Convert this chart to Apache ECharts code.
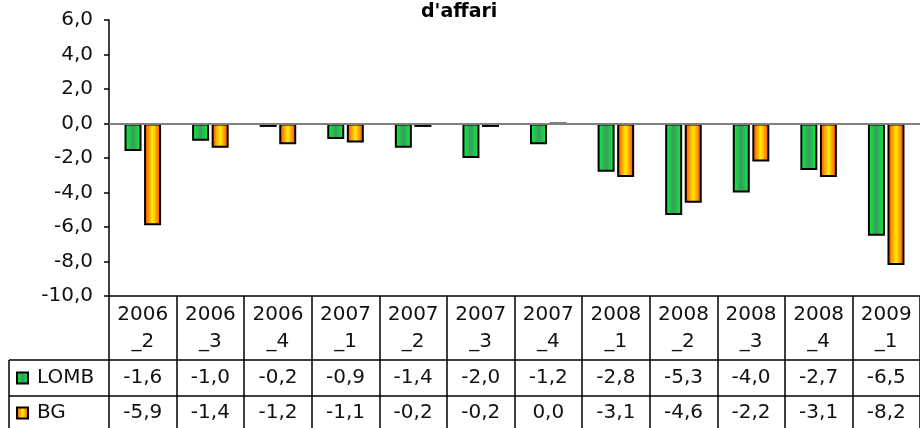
<!DOCTYPE html>
<html lang="it">
<head>
    <meta charset="UTF-8">
    <title>d'affari</title>
    <script src="https://cdn.jsdelivr.net/npm/echarts@6/dist/echarts.min.js"></script>
</head>
<body style="margin:0">
<div id="box" style="width: 920px;height: 428px;"></div>
<script>
    // dati
    var categories = ['2006_2', '2006_3', '2006_4', '2007_1', '2007_2', '2007_3',
        '2007_4', '2008_1', '2008_2', '2008_3', '2008_4', '2009_1'];
    var seriesNames = ['LOMB', 'BG'];
    var lomb = [-1.6, -1.0, -0.2, -0.9, -1.4, -2.0, -1.2, -2.8, -5.3, -4.0, -2.7, -6.5];
    var bg = [-5.9, -1.4, -1.2, -1.1, -0.2, -0.2, 0.0, -3.1, -4.6, -2.2, -3.1, -8.2];
    var yMin = -10, yMax = 6, yStep = 2;

    var font = 'DejaVu Sans';
    function fmt(v) {
        return Number(v).toFixed(1).replace('.', ',');
    }
    function grad(edge, mid) {
        return new echarts.graphic.LinearGradient(0, 0, 1, 0, [
            {offset: 0, color: edge},
            {offset: 0.5, color: mid},
            {offset: 1, color: edge}
        ]);
    }

    var myChart = echarts.init(document.getElementById('box'));
    var option = {
        backgroundColor: '#fff',
        animation: false,
        title: {
            text: "d'affari",
            left: 421,
            top: 3,
            padding: 0,
            textStyle: {fontFamily: font, fontSize: 19, fontWeight: 'bold', color: '#000'}
        },
        legend: {
            orient: 'vertical',
            left: 16,
            top: 368,
            height: 70,
            padding: 0,
            itemWidth: 11,
            itemHeight: 11,
            itemGap: 15,
            icon: 'rect',
            textStyle: {fontFamily: font, fontSize: 20, color: '#111', lineHeight: 20, padding: [0, 0, 0, 4]},
            data: seriesNames
        },
        grid: {left: 109, top: 20, width: 816, height: 276},
        xAxis: [
            {
                type: 'category',
                data: categories,
                position: 'bottom',
                axisLine: {onZero: false, lineStyle: {color: '#000', width: 1.5}},
                axisTick: {show: true, interval: 0, length: 134, lineStyle: {color: '#000', width: 1.5}},
                axisLabel: {
                    interval: 0, margin: 5, fontFamily: font, fontSize: 20, lineHeight: 27, color: '#111',
                    formatter: function (v) { return v.replace('_', '\n_'); }
                }
            },
            {
                type: 'category',
                data: lomb.map(fmt),
                position: 'bottom',
                offset: 64,
                axisLine: {onZero: false, lineStyle: {color: '#000', width: 1.5}},
                axisTick: {show: false},
                axisLabel: {interval: 0, margin: 8, fontFamily: font, fontSize: 20, lineHeight: 20, color: '#111'}
            },
            {
                type: 'category',
                data: bg.map(fmt),
                position: 'bottom',
                offset: 100,
                axisLine: {onZero: false, lineStyle: {color: '#000', width: 1.5}},
                axisTick: {show: false},
                axisLabel: {interval: 0, margin: 7, fontFamily: font, fontSize: 20, lineHeight: 20, color: '#111'}
            }
        ],
        yAxis: {
            type: 'value',
            min: yMin,
            max: yMax,
            interval: yStep,
            axisLine: {show: true, lineStyle: {color: '#000', width: 1.5}},
            axisTick: {show: true, length: 5, lineStyle: {color: '#000', width: 1.5}},
            splitLine: {show: false},
            axisLabel: {margin: 16, fontFamily: font, fontSize: 20, color: '#111', formatter: fmt}
        },
        graphic: [
            {type: 'line', shape: {x1: 9, y1: 360, x2: 110, y2: 360}, style: {stroke: '#000', lineWidth: 1.5}},
            {type: 'line', shape: {x1: 9, y1: 396, x2: 110, y2: 396}, style: {stroke: '#000', lineWidth: 1.5}},
            {type: 'line', shape: {x1: 9, y1: 360, x2: 9, y2: 430}, style: {stroke: '#000', lineWidth: 1.5}}
        ],
        series: [
            {
                name: seriesNames[0],
                type: 'bar',
                data: lomb,
                barWidth: 17,
                barGap: '15%',
                itemStyle: {color: grad('#00ff33', '#3a9a5e'), borderColor: '#000', borderWidth: 2},
                markLine: {
                    silent: true,
                    symbol: 'none',
                    label: {show: false},
                    lineStyle: {color: '#808080', width: 2, type: 'solid'},
                    data: [{yAxis: 0}]
                }
            },
            {
                name: seriesNames[1],
                type: 'bar',
                data: bg,
                barWidth: 17,
                itemStyle: {color: grad('#ff3a00', '#ffee00'), borderColor: '#000', borderWidth: 2}
            }
        ]
    };
    myChart.setOption(option);
</script>
</body>
</html>
